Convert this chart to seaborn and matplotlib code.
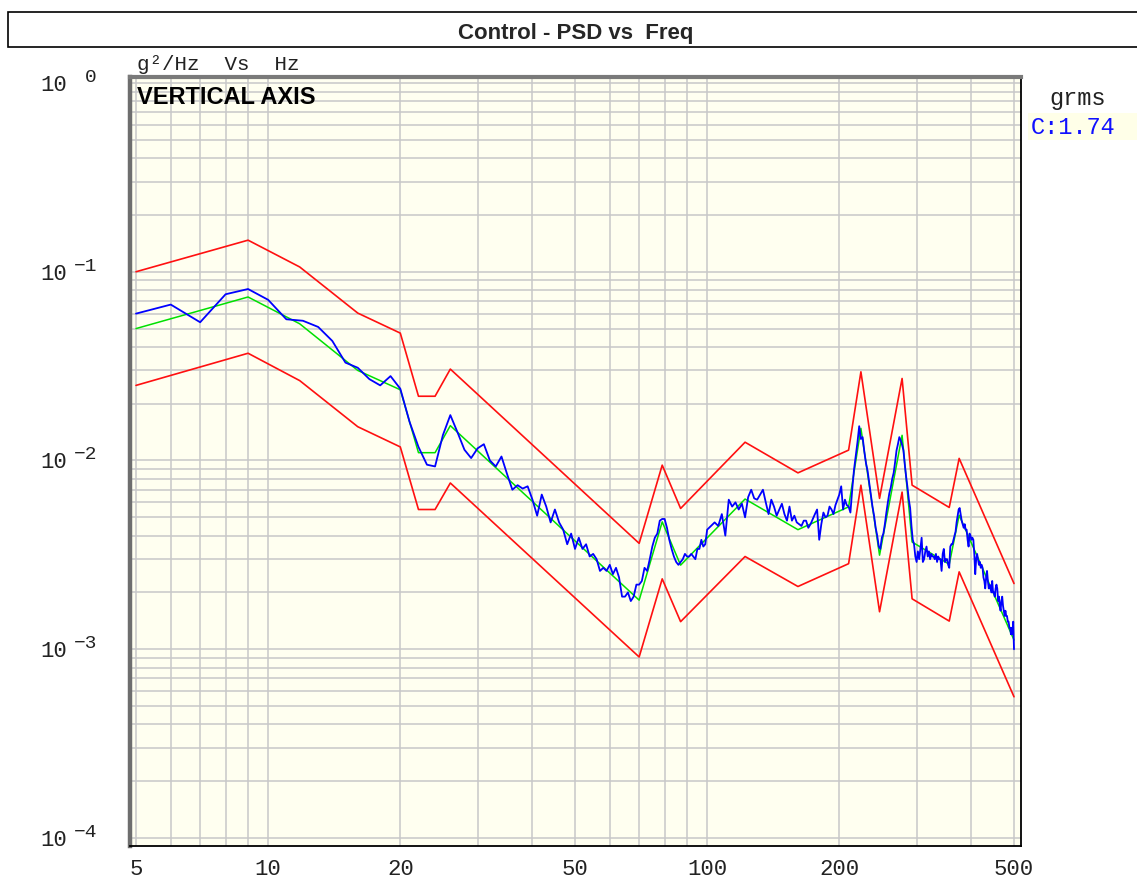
import numpy as np
import pandas as pd
import matplotlib
matplotlib.use('Agg')
import matplotlib.pyplot as plt
import seaborn as sns
from matplotlib import transforms
from matplotlib.patches import Rectangle
from matplotlib.ticker import FixedLocator, LogLocator, NullFormatter

# reference profile breakpoints (Hz, g^2/Hz)
ref_freq = [5, 9, 11.8, 16, 20, 22, 24, 26, 70, 79, 87, 122, 161, 210, 224, 247, 278, 293, 356, 375, 500]
ref_psd = [0.05, 0.0735, 0.053, 0.030, 0.0237, 0.011, 0.011, 0.0153, 0.00182, 0.00473, 0.00279,
           0.00625, 0.0043, 0.00568, 0.0148, 0.00315, 0.0136, 0.0037, 0.00282, 0.00513, 0.00112]
upper_psd = [0.1, 0.147, 0.106, 0.0604, 0.0473, 0.0219, 0.0219, 0.0305, 0.00364, 0.00945, 0.00557,
             0.0125, 0.0086, 0.01135, 0.0295, 0.0063, 0.0272, 0.0074, 0.00564, 0.01026, 0.00223]
lower_psd = [0.025, 0.037, 0.0265, 0.0151, 0.0118, 0.0055, 0.0055, 0.0076, 0.00091, 0.00236, 0.0014,
             0.0031, 0.00215, 0.00284, 0.0074, 0.00158, 0.0068, 0.00185, 0.00141, 0.00257, 0.00056]

# measured control spectrum, 1 Hz steps 5..100 then 2 Hz steps 102..500
ctrl_freq_lo = np.arange(5, 101)
ctrl_psd_lo = [
    0.060, 0.067, 0.054, 0.076, 0.081, 0.071, 0.056, 0.055, 0.051, 0.043,
    0.033, 0.031, 0.027, 0.025, 0.028, 0.024, 0.016, 0.0118, 0.0095, 0.0093,
    0.0136, 0.0174, 0.0141, 0.0114, 0.0103, 0.0116, 0.0122, 0.0100, 0.0093, 0.0105,
    0.0085, 0.0070, 0.0074, 0.0071, 0.0073, 0.0062, 0.0051, 0.0066, 0.0057, 0.0047,
    0.0055, 0.0047, 0.0043, 0.0036, 0.0041, 0.0034, 0.0039, 0.0034, 0.0036, 0.0031,
    0.0032, 0.0030, 0.0026, 0.0027, 0.0026, 0.0028, 0.0025, 0.0027, 0.0024, 0.0019,
    0.0019, 0.0020, 0.0018, 0.0019, 0.0022, 0.0022, 0.0023, 0.0027, 0.0026, 0.0030,
    0.0035, 0.0039, 0.0041, 0.0048, 0.0049, 0.0049, 0.0044, 0.0038, 0.0034, 0.0031,
    0.0029, 0.0028, 0.0029, 0.0030, 0.0032, 0.0031, 0.0031, 0.0032, 0.0031, 0.0030,
    0.0034, 0.0034, 0.0038, 0.0035, 0.0036, 0.0043,
]
ctrl_freq_hi = np.arange(102, 501, 2)
ctrl_psd_hi = [
    0.0045, 0.0047, 0.0045, 0.0052, 0.0040, 0.0062, 0.0057, 0.0060, 0.0055, 0.0059,
    0.0050, 0.0064, 0.0070, 0.0063, 0.0062, 0.0066, 0.0070, 0.0060, 0.0052, 0.0062,
    0.0057, 0.0051, 0.0055, 0.0059, 0.0052, 0.0048, 0.0057, 0.0048, 0.0051, 0.0047,
    0.0046, 0.0045, 0.0048, 0.0048, 0.0044, 0.0046, 0.0049, 0.0052, 0.0055, 0.0038,
    0.0046, 0.0053, 0.0050, 0.0051, 0.0057, 0.0055, 0.0052, 0.0058, 0.0062, 0.0066,
    0.0073, 0.0055, 0.0062, 0.0058, 0.0057, 0.0053, 0.0070, 0.0089, 0.0105, 0.0125,
    0.0152, 0.0130, 0.0133, 0.0112, 0.0097, 0.0088, 0.0076, 0.0066, 0.0057, 0.0051,
    0.0044, 0.0040, 0.0035, 0.0034, 0.0039, 0.0041, 0.0046, 0.0053, 0.0060, 0.0067,
    0.0072, 0.0080, 0.0086, 0.0098, 0.0113, 0.0122, 0.0133, 0.0128, 0.0121, 0.0113,
    0.0095, 0.0082, 0.0072, 0.0062, 0.0056, 0.0045, 0.0038, 0.0036, 0.0031, 0.0029,
    0.0033, 0.0030, 0.0034, 0.0039, 0.0029, 0.0030, 0.0033, 0.0035, 0.0031, 0.0033,
    0.0030, 0.0032, 0.0031, 0.0031, 0.0030, 0.0032, 0.0029, 0.0031, 0.0030, 0.0030,
    0.0026, 0.0032, 0.0034, 0.0029, 0.0030, 0.0030, 0.0028, 0.0027, 0.0035, 0.0036,
    0.0036, 0.0038, 0.0040, 0.0042, 0.0047, 0.0051, 0.0055, 0.0056, 0.0052, 0.0048,
    0.0046, 0.0044, 0.0046, 0.0043, 0.0043, 0.0038, 0.0035, 0.0041, 0.0040, 0.0038,
    0.0039, 0.0038, 0.0032, 0.0025, 0.0030, 0.0032, 0.0030, 0.0028, 0.0029, 0.0027,
    0.0028, 0.0027, 0.0024, 0.0023, 0.0021, 0.0024, 0.0026, 0.0023, 0.0021, 0.0022,
    0.0021, 0.0020, 0.0023, 0.0020, 0.0020, 0.0019, 0.0021, 0.0022, 0.0021, 0.0018,
    0.0019, 0.0017, 0.0016, 0.0018, 0.0019, 0.0017, 0.0016, 0.0015, 0.0016, 0.0015,
    0.0015, 0.0014, 0.0014, 0.0013, 0.0013, 0.0012, 0.0013, 0.0012, 0.0014, 0.0010,
]

x_major = [5, 10, 20, 50, 100, 200, 500]
x_labels = ['5', '10', '20', '50', '100', '200', '500']
x_minor = [6, 7, 8, 9, 30, 40, 60, 70, 80, 90, 300, 400]
y_decades = [1e-4, 1e-3, 1e-2, 1e-1, 1]
y_exponents = ['\u22124', '\u22123', '\u22122', '\u22121', '0']
grms_text = 'C:1.74'

ctrl = pd.DataFrame({'freq': np.concatenate([ctrl_freq_lo, ctrl_freq_hi]),
                     'psd': np.concatenate([ctrl_psd_lo, ctrl_psd_hi])})
prof = pd.DataFrame({'freq': ref_freq, 'ref': ref_psd, 'upper': upper_psd, 'lower': lower_psd})

sns.set_style('white')
plt.rcParams['font.family'] = ['Liberation Mono', 'DejaVu Sans Mono']

fig = plt.figure(figsize=(11.37, 8.8), dpi=100)
ax = fig.add_axes([130/1137, 34/880, 891/1137, 769/880])
ax.set_facecolor('#fffff0')

sns.lineplot(data=prof, x='freq', y='ref', color='#00e000', lw=1.1, ax=ax, estimator=None, sort=False)
sns.lineplot(data=ctrl, x='freq', y='psd', color='#0000ff', lw=1.3, ax=ax, estimator=None, sort=False)
sns.lineplot(data=prof, x='freq', y='upper', color='#ff1010', lw=1.2, ax=ax, estimator=None, sort=False)
sns.lineplot(data=prof, x='freq', y='lower', color='#ff1010', lw=1.2, ax=ax, estimator=None, sort=False)

ax.set_xscale('log')
ax.set_yscale('log')
ax.set_xlim(5 * 10**(-6/439), 500 * 10**(7/439))
ax.set_ylim(1e-4 * 10**(-8/188.7), 10**(6/188.7))
ax.set_xlabel('')
ax.set_ylabel('')

ax.set_xticks(x_major, labels=x_labels)
ax.xaxis.set_minor_locator(FixedLocator(x_minor))
ax.xaxis.set_minor_formatter(NullFormatter())
ax.set_yticks(y_decades, labels=['10'] * len(y_decades))
ax.yaxis.set_minor_locator(LogLocator(base=10, subs=np.arange(2, 10)))
ax.yaxis.set_minor_formatter(NullFormatter())
ax.tick_params(which='minor', length=0)
ax.tick_params(axis='x', which='major', length=6.5, width=1, color='#c0c0c0', pad=3,
               labelsize=16, labelcolor='#222222')
ax.tick_params(axis='y', which='major', length=7, width=1, color='#c0c0c0', pad=38,
               labelsize=16, labelcolor='#222222')
ax.grid(which='both', color='#c8c8c8', lw=1.1)
ax.set_axisbelow(True)

ax.spines['left'].set(color='#6e6e6e', lw=3.2)
ax.spines['top'].set(color='#7a7a7a', lw=3.0)
ax.spines['right'].set(color='black', lw=1.3)
ax.spines['bottom'].set(color='black', lw=1.3)

# exponents of the y labels
exp_trans = transforms.offset_copy(ax.get_yaxis_transform(), fig=fig, x=0, y=1, units='dots')
for val, ex in zip(y_decades, y_exponents):
    ax.text(-33/891, val, ex, transform=exp_trans, ha='right', va='baseline',
            fontsize=14, color='#222222', clip_on=False)

ax.text(7/891, (846-98)/769, 'VERTICAL AXIS', transform=ax.transAxes, ha='left', va='center',
        fontsize=17, fontweight='bold', family='Liberation Sans', color='black')

# title box
fig.add_artist(Rectangle((8/1137, 1-47/880), 1.2, 35/880, transform=fig.transFigure,
                         facecolor='white', edgecolor='black', lw=1.2))
fig.text(576/1137, 1-33/880, 'Control - PSD vs  Freq', ha='center', va='center',
         fontsize=16, fontweight='bold', family='Liberation Sans')
fig.text(137/1137, 1-64/880, 'g\u00b2/Hz  Vs  Hz', ha='left', va='center', fontsize=15, color='#222222')

# rms box on the right
fig.add_artist(Rectangle((1028/1137, 1-140/880), 0.2, 27/880, transform=fig.transFigure,
                         facecolor='#ffffe8', edgecolor='none'))
fig.text(1078/1137, 1-99/880, 'grms', ha='center', va='center', fontsize=17, color='#222222')
fig.text(1031/1137, 1-127/880, grms_text, ha='left', va='center', fontsize=17, color='#1010ff')

fig.savefig('out.png', dpi=100)
